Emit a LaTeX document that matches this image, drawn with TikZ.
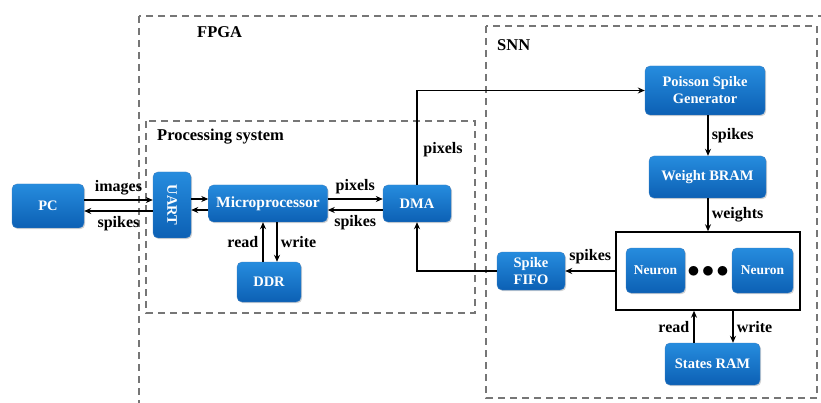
\documentclass[tikz,border=0pt]{standalone}
\usepackage{fontspec}
\setmainfont{Liberation Serif}
\usetikzlibrary{arrows.meta,shadows}
\definecolor{bluetop}{RGB}{38,140,222}
\definecolor{bluebot}{RGB}{12,96,180}
\definecolor{dashgray}{RGB}{118,118,118}
\tikzset{
  blk/.style={rounded corners=5pt, top color=bluetop, bottom color=bluebot, draw=bluebot!80!white, line width=0.4pt,
    text=white, font=\bfseries\fontsize{14.5}{17}\selectfont, align=center, inner sep=0pt,
    drop shadow={shadow xshift=1.2pt, shadow yshift=-1.2pt, opacity=0.35}},
  grp/.style={draw=dashgray, line width=1.6pt, dash pattern=on 7pt off 5pt},
  conn/.style={line width=1.5pt, -{Stealth[length=7pt,width=6pt]}},
  lbl/.style={font=\bfseries\fontsize{16}{17}\selectfont, inner sep=0pt},
  ttl/.style={font=\bfseries\fontsize{16.5}{17}\selectfont, inner sep=0pt, anchor=west},
}
\begin{document}
\begin{tikzpicture}[x=1pt,y=-1pt]
\useasboundingbox (0,0) rectangle (821,403);
\clip (0,0) rectangle (821,403);
% group boxes
\draw[grp] (139,16) rectangle (840,420);
\draw[grp] (486,26) rectangle (817,398);
\draw[grp] (146,121) rectangle (475,313);
\node[ttl] (tfpga) at (197,32) {FPGA};
\node[ttl] (tsnn) at (497,45) {SNN};
\node[ttl] (tps) at (157,137) {Processing system};
% blocks
\node[blk, minimum width=72pt, minimum height=44pt] (pc) at (48,206) {PC};
\node[blk, minimum width=38pt, minimum height=66pt] (uart) at (172,205) {\rotatebox{-90}{UART}};
\node[blk, minimum width=119pt, minimum height=37pt, font=\bfseries\fontsize{15.5}{17}\selectfont] (mp) at (268,203.5) {Microprocessor};
\node[blk, minimum width=64pt, minimum height=40pt] (ddr) at (269,282) {DDR};
\node[blk, minimum width=68pt, minimum height=37pt] (dma) at (417,203.5) {DMA};
\node[blk, minimum width=120pt, minimum height=49pt] (psg) at (705,90.5) {Poisson Spike\\Generator};
\node[blk, minimum width=117pt, minimum height=42pt] (wb) at (707.5,177) {Weight BRAM};
\node[draw, line width=1.5pt, minimum width=184pt, minimum height=78pt, inner sep=0pt] (arr) at (708,271) {};
\node[blk, minimum width=59pt, minimum height=45pt, font=\bfseries\fontsize{13.5}{14}\selectfont] (n1) at (655.5,270.5) {Neuron};
\node[blk, minimum width=61pt, minimum height=45pt, font=\bfseries\fontsize{13.5}{14}\selectfont] (n2) at (762.5,270.5) {Neuron};
\node[font=\fontsize{26}{26}\selectfont, inner sep=0pt] (dots) at (708,272) {$\bullet\hspace{-3.5pt}\bullet\hspace{-3.5pt}\bullet$};
\node[blk, minimum width=68pt, minimum height=38pt] (fifo) at (531,271) {Spike\\FIFO};
\node[blk, minimum width=95pt, minimum height=42pt] (sram) at (712.5,364) {States RAM};
% connectors
\draw[conn] (pc.east |- 0,200) -- (uart.west |- 0,200) node[lbl, midway, above=4pt] (limg) {images};
\draw[conn] (uart.west |- 0,211) -- (pc.east |- 0,211) node[lbl, midway, below=5pt] (lsp1) {spikes};
\draw[conn] (uart.east |- 0,199) -- (mp.west |- 0,199);
\draw[conn] (mp.west |- 0,210) -- (uart.east |- 0,210);
\draw[conn] (mp.east |- 0,199) -- (dma.west |- 0,199) node[lbl, midway, above=4pt] (lpx1) {pixels};
\draw[conn] (dma.west |- 0,210) -- (mp.east |- 0,210) node[lbl, midway, below=5pt] (lsp2) {spikes};
\draw[conn] (ddr.north -| 263,0) -- (mp.south -| 263,0) node[lbl, midway, left=4pt] (lrd1) {read};
\draw[conn] (mp.south -| 277,0) -- (ddr.north -| 277,0) node[lbl, midway, right=3pt] (lwr1) {write};
\coordinate (c1) at (417,90.5);
\draw[conn] (dma.north) -- (c1) -- (psg.west);
\node[lbl] (lpx2) at (443,150) {pixels};
\draw[conn] (psg.south -| 708,0) -- (wb.north -| 708,0) node[lbl, midway, right=3pt] (lsp3) {spikes};
\draw[conn] (wb.south -| 708,0) -- (arr.north -| 708,0) node[lbl, midway, right=3pt] (lw) {weights};
\draw[conn] (arr.west) -- (fifo.east) node[lbl, midway, above=6pt] (lsp4) {spikes};
\coordinate (c2) at (417,271);
\draw[conn] (fifo.west) -- (c2) -- (dma.south);
\draw[conn] (sram.north -| 694,0) -- (arr.south -| 694,0) node[lbl, midway, left=4pt] (lrd2) {read};
\draw[conn] (arr.south -| 733,0) -- (sram.north -| 733,0) node[lbl, midway, right=3pt] (lwr2) {write};
\end{tikzpicture}
\end{document}
